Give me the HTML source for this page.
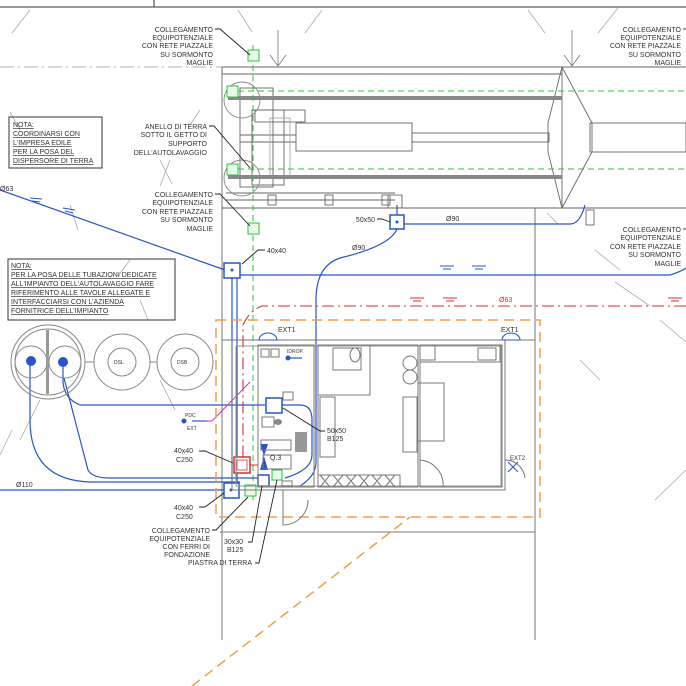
<!DOCTYPE html>
<html><head><meta charset="utf-8"><style>
html,body{margin:0;padding:0;background:#fff}
svg{display:block}
text{font-family:"Liberation Sans",sans-serif;font-size:7px;fill:#333}
.b{fill:#2a55c8}
.r{fill:#d03030}
</style></head><body>
<svg width="686" height="686" viewBox="0 0 686 686" xmlns="http://www.w3.org/2000/svg">
<rect width="686" height="686" fill="#fff"/>
<!-- top border -->
<line x1="0" y1="7" x2="686" y2="7" stroke="#333" stroke-width="1"/>
<line x1="154" y1="0" x2="154" y2="7" stroke="#333"/>
<!-- gray hatch diagonals -->
<g stroke="#aaa" stroke-width="0.8">
<line x1="12" y1="33" x2="30" y2="10"/><line x1="238" y1="10" x2="252" y2="32"/>
<line x1="305" y1="33" x2="322" y2="10"/><line x1="528" y1="10" x2="545" y2="33"/>
<line x1="598" y1="33" x2="618" y2="8"/>
<line x1="10" y1="112" x2="20" y2="130"/><line x1="200" y1="110" x2="190" y2="125"/>
<line x1="160" y1="160" x2="172" y2="184"/><line x1="170" y1="160" x2="160" y2="186"/>
<line x1="70" y1="205" x2="78" y2="230"/><line x1="130" y1="260" x2="118" y2="276"/>
<line x1="140" y1="300" x2="148" y2="320"/>
<line x1="595" y1="250" x2="620" y2="270"/><line x1="615" y1="282" x2="650" y2="306"/>
<line x1="660" y1="320" x2="686" y2="342"/><line x1="580" y1="360" x2="600" y2="380"/>
<line x1="40" y1="400" x2="20" y2="440"/><line x1="160" y1="380" x2="175" y2="410"/>
<line x1="0" y1="455" x2="12" y2="430"/><line x1="655" y1="500" x2="686" y2="470"/>
<line x1="547" y1="213" x2="558" y2="224"/>
</g>
<line x1="0" y1="67" x2="222" y2="67" stroke="#999" stroke-width="0.8" stroke-dasharray="14,4,2,4"/>
<!-- arrow pointers top -->
<g stroke="#777" fill="none" stroke-width="0.8">
<line x1="278" y1="30" x2="278" y2="66"/><polyline points="270,55 278,66 286,55"/>
<line x1="572" y1="30" x2="572" y2="66"/><polyline points="564,55 572,66 580,55"/>
</g>
<!-- carwash structure -->
<g stroke="#666" fill="none" stroke-width="0.9">
<line x1="222" y1="67" x2="686" y2="67"/>
<line x1="222" y1="74" x2="562" y2="74"/>
<line x1="222" y1="67" x2="222" y2="640"/>
<line x1="562" y1="67" x2="562" y2="208"/>
<line x1="222" y1="208" x2="686" y2="208"/>
<line x1="226" y1="193" x2="395" y2="193"/>
<line x1="226" y1="200" x2="395" y2="200"/>
<line x1="535" y1="208" x2="535" y2="640"/>
<rect x="296" y="123" width="116" height="28"/>
<rect x="412" y="133" width="137" height="9"/>
<rect x="590" y="123" width="96" height="29"/>
<polyline points="562,67 592,123 592,152 562,208"/>
<polyline points="562,67 548,123 548,152 562,208"/>
<rect x="240" y="88" width="33" height="99"/>
<rect x="252" y="110" width="32" height="75"/>
<rect x="255" y="110" width="50" height="12"/>
<line x1="240" y1="135" x2="296" y2="135"/><line x1="240" y1="142" x2="296" y2="142"/>
<circle cx="242" cy="100" r="18" stroke="#888"/>
<circle cx="242" cy="178" r="18" stroke="#888"/>
<rect x="270" y="118" width="20" height="60" stroke="#aaa"/>
<rect x="268" y="195" width="8" height="10"/><rect x="325" y="195" width="8" height="10"/><rect x="382" y="195" width="8" height="10"/>
<rect x="388" y="195" width="14" height="13"/>
<rect x="586" y="210" width="8" height="15"/>
</g>
<rect x="228" y="96" width="334" height="4" fill="#888"/>
<rect x="228" y="175" width="334" height="4" fill="#888"/>
<!-- green dashed -->
<g stroke="#2ec040" fill="none" stroke-width="1" stroke-dasharray="6,4">
<line x1="228" y1="91" x2="686" y2="91"/>
<line x1="228" y1="169" x2="686" y2="169"/>
<line x1="253" y1="45" x2="253" y2="500"/>
</g>
<g stroke="#2ec040" fill="#e8fbe8" stroke-width="1">
<rect x="248" y="50" width="11" height="11"/>
<rect x="227" y="86" width="11" height="11"/>
<rect x="227" y="164" width="11" height="11"/>
<rect x="248" y="223" width="11" height="11"/>
<rect x="245" y="485" width="11" height="11"/>
<rect x="272" y="470" width="10" height="10"/>
</g>
<!-- blue pipes -->
<g stroke="#2a55c8" fill="none" stroke-width="1.2">
<line x1="0" y1="190" x2="225" y2="270"/>
<line x1="239" y1="275" x2="670" y2="275"/>
<path d="M670,275 Q680,272 686,268"/>
<path d="M397,229 Q390,246 340,258 Q316,266 316,300 L316,462 Q316,476 300,486 L280,486"/>
<line x1="232" y1="277" x2="232" y2="484"/>
<line x1="237" y1="277" x2="237" y2="484"/>
<path d="M404,224 L570,224 Q580,224 585,205"/>
<line x1="397" y1="215" x2="397" y2="205"/>
<line x1="0" y1="490" x2="225" y2="490"/>
<path d="M30,362 L30,420 Q30,480 90,482 L240,482"/>
<path d="M63,362 L63,380 Q63,398 80,405 L265,405"/>
<path d="M64,378 L88,470 Q92,478 110,478 L258,478"/>
<path d="M282,405 L300,405 Q312,405 312,420 L312,455 Q312,470 285,478"/>
<line x1="192" y1="421" x2="208" y2="421"/>
<line x1="288" y1="358" x2="302" y2="358"/>
</g>
<g stroke="#2a55c8" fill="#fff" stroke-width="1.5">
<rect x="224" y="263" width="16" height="15"/>
<rect x="390" y="215" width="14" height="14"/>
<rect x="266" y="398" width="16" height="15"/>
<rect x="224" y="483" width="15" height="15"/>
<rect x="258" y="475" width="11" height="11"/>
</g>
<g class="b"><circle cx="232" cy="270" r="1.5"/><circle cx="397" cy="222" r="1.5"/><circle cx="231" cy="490" r="1.5"/>
<circle cx="31" cy="361" r="5"/><circle cx="63" cy="362" r="5"/><circle cx="184" cy="421" r="2.5"/><circle cx="288" cy="358" r="2.5"/>
<path d="M260,444 L268,444 L264,456 L268,470 L260,470 L264,456Z"/>
</g>
<g stroke="#2a55c8" stroke-width="1"><line x1="30" y1="198" x2="42" y2="199"/><line x1="32" y1="201" x2="40" y2="202"/>
<line x1="63" y1="208" x2="75" y2="210"/><line x1="65" y1="211" x2="73" y2="213"/>
<line x1="440" y1="266" x2="454" y2="266"/><line x1="443" y1="269" x2="451" y2="269"/>
<line x1="472" y1="266" x2="486" y2="266"/><line x1="475" y1="269" x2="483" y2="269"/></g>
<!-- red -->
<g stroke="#d03030" fill="none" stroke-width="1.1" stroke-dasharray="12,4,2,4">
<path d="M686,306 L262,306 Q250,310 243,325 L243,460"/>
</g>
<g stroke="#d03030" stroke-width="1"><line x1="410" y1="298" x2="424" y2="298"/><line x1="413" y1="301" x2="421" y2="301"/>
<line x1="443" y1="298" x2="457" y2="298"/><line x1="446" y1="301" x2="454" y2="301"/>
<line x1="668" y1="298" x2="682" y2="298"/><line x1="671" y1="301" x2="679" y2="301"/></g>
<rect x="234" y="457" width="16" height="16" fill="#fff" stroke="#d03030" stroke-width="1.5"/>
<rect x="237" y="460" width="10" height="10" fill="none" stroke="#d03030" stroke-width="0.8"/>
<line x1="250" y1="465" x2="258" y2="465" stroke="#d03030"/>
<!-- magenta -->
<path d="M206,421 L212,421 L250,382" stroke="#e030c0" fill="none" stroke-width="1"/>
<!-- orange dashed -->
<g stroke="#f0a040" fill="none" stroke-width="1.5" stroke-dasharray="10,6">
<rect x="216" y="320" width="324" height="197"/>
<line x1="192" y1="686" x2="410" y2="517"/>
</g>
<!-- building -->
<g stroke="#777" fill="none" stroke-width="1">
<line x1="222" y1="340" x2="535" y2="340"/>
<rect x="232" y="340" width="273" height="150"/>
<rect x="236" y="346" width="265" height="140" stroke="#999"/>
<rect x="258" y="345" width="56" height="142"/>
<rect x="318" y="345" width="100" height="142"/>
<rect x="420" y="345" width="82" height="142"/>
<rect x="318" y="345" width="52" height="50"/>
<rect x="420" y="345" width="80" height="17"/>
<rect x="420" y="345" width="15" height="15"/>
<rect x="478" y="348" width="18" height="12"/>
<rect x="418" y="383" width="26" height="58"/>
<rect x="403" y="397" width="14" height="55"/>
<rect x="320" y="397" width="15" height="60"/>
<rect x="318" y="475" width="82" height="12"/>
<path d="M320,475 l10,12 m0,-12 l-10,12 m13,-12 l10,12 m0,-12 l-10,12 m13,-12 l10,12 m0,-12 l-10,12 m13,-12 l10,12 m0,-12 l-10,12 m13,-12 l10,12 m0,-12 l-10,12 m13,-12 l10,12 m0,-12 l-10,12"/>
<path d="M420,460 A25,25 0 0 1 443,487"/><line x1="420" y1="460" x2="420" y2="487"/>
<path d="M505,460 A20,20 0 0 1 525,478"/>
<path d="M283,490 L283,525 A25,25 0 0 0 308,500"/>
<path d="M220,532 L535,532"/>
<ellipse cx="355" cy="355" rx="5" ry="7"/>
<circle cx="410" cy="363" r="7"/><circle cx="410" cy="377" r="7"/>
<rect x="261" y="349" width="8" height="8"/><rect x="271" y="349" width="8" height="8"/>
<rect x="283" y="392" width="10" height="8"/><rect x="262" y="417" width="12" height="10"/>
<rect x="261" y="440" width="30" height="10"/><rect x="263" y="455" width="28" height="14"/>
<rect x="282" y="481" width="10" height="5"/>
<rect x="333" y="348" width="28" height="22"/>
</g>
<rect x="295" y="432" width="12" height="20" fill="#999"/>
<ellipse cx="278" cy="422" rx="4" ry="3" fill="#888"/>
<path d="M259,340 A9,7 0 0 1 277,340 Z M502,340 A9,7 0 0 1 520,340 Z" fill="none" stroke="#2a55c8"/>
<path d="M508,462 l10,10 m0,-10 l-10,10" stroke="#2a55c8"/>
<!-- tanks -->
<g stroke="#888" fill="none" stroke-width="1">
<circle cx="48" cy="362" r="37"/><circle cx="48" cy="362" r="33"/>
<circle cx="31" cy="362" r="16"/><circle cx="65" cy="362" r="16"/>
<circle cx="122" cy="362" r="28"/><circle cx="122" cy="362" r="14"/>
<circle cx="185" cy="362" r="28"/><circle cx="185" cy="362" r="14"/>
<line x1="85" y1="362" x2="94" y2="362"/><line x1="150" y1="362" x2="157" y2="362"/>
</g>
<rect x="46" y="330" width="3" height="64" fill="#999"/>
<text x="114" y="364" style="font-size:5px">DSL</text><text x="177" y="364" style="font-size:5px">DSB</text>
<!-- notes -->
<rect x="9" y="117" width="93" height="51" fill="none" stroke="#333"/>
<text x="13" y="127" text-decoration="underline">NOTA:</text>
<text x="13" y="136" text-decoration="underline">COORDINARSI CON</text>
<text x="13" y="145" text-decoration="underline">L'IMPRESA EDILE</text>
<text x="13" y="154" text-decoration="underline">PER LA POSA DEL</text>
<text x="13" y="163" text-decoration="underline">DISPERSORE DI TERRA</text>
<rect x="8" y="259" width="167" height="61" fill="none" stroke="#333"/>
<text x="11" y="268" text-decoration="underline">NOTA:</text>
<text x="11" y="277" text-decoration="underline">PER LA POSA DELLE TUBAZIONI DEDICATE</text>
<text x="11" y="286" text-decoration="underline">ALL'IMPIANTO DELL'AUTOLAVAGGIO FARE</text>
<text x="11" y="295" text-decoration="underline">RIFERIMENTO ALLE TAVOLE ALLEGATE E</text>
<text x="11" y="304" text-decoration="underline">INTERFACCIARSI CON L'AZIENDA</text>
<text x="11" y="313" text-decoration="underline">FORNITRICE DELL'IMPIANTO</text>
<!-- labels -->
<g text-anchor="end">
<text x="213" y="32">COLLEGAMENTO</text><text x="213" y="40">EQUIPOTENZIALE</text><text x="213" y="48">CON RETE PIAZZALE</text><text x="213" y="57">SU SORMONTO</text><text x="213" y="65">MAGLIE</text>
<text x="207" y="129">ANELLO DI TERRA</text><text x="207" y="137">SOTTO IL GETTO DI</text><text x="207" y="146">SUPPORTO</text><text x="207" y="155">DELL'AUTOLAVAGGIO</text>
<text x="213" y="197">COLLEGAMENTO</text><text x="213" y="205">EQUIPOTENZIALE</text><text x="213" y="214">CON RETE PIAZZALE</text><text x="213" y="222">SU SORMONTO</text><text x="213" y="231">MAGLIE</text>
<text x="681" y="32">COLLEGAMENTO</text><text x="681" y="40">EQUIPOTENZIALE</text><text x="681" y="48">CON RETE PIAZZALE</text><text x="681" y="57">SU SORMONTO</text><text x="681" y="65">MAGLIE</text>
<text x="681" y="232">COLLEGAMENTO</text><text x="681" y="240">EQUIPOTENZIALE</text><text x="681" y="249">CON RETE PIAZZALE</text><text x="681" y="257">SU SORMONTO</text><text x="681" y="266">MAGLIE</text>
<text x="210" y="533">COLLEGAMENTO</text><text x="210" y="541">EQUIPOTENZIALE</text><text x="210" y="549">CON FERRI DI</text><text x="210" y="557">FONDAZIONE</text>
<text x="252" y="565">PIASTRA DI TERRA</text>
<text x="375" y="222">50x50</text>
</g>
<text x="267" y="253">40x40</text>
<text x="174" y="453">40x40</text><text x="176" y="462">C250</text>
<text x="174" y="510">40x40</text><text x="176" y="519">C250</text>
<text x="224" y="544">30x30</text><text x="227" y="552">B125</text>
<text x="327" y="433">50x50</text><text x="327" y="441">B125</text>
<text x="270" y="460">Q.3</text>
<g class="b"><text x="0" y="191">Ø63</text><text x="446" y="221">Ø90</text><text x="352" y="250">Ø90</text>
<text x="16" y="487">Ø110</text><text x="278" y="332">EXT1</text><text x="501" y="332">EXT1</text>
<text x="510" y="460" style="font-size:6px">EXT2</text><text x="287" y="353" style="font-size:5px">IDROP.</text>
<text x="185" y="417" style="font-size:5px">PDC</text><text x="187" y="430" style="font-size:5px">EXT</text></g>
<text x="499" y="302" class="r">Ø63</text>
<!-- leader lines -->
<g stroke="#222" fill="none" stroke-width="0.9">
<polyline points="215,29 220,29 250,55"/>
<polyline points="209,126 214,126 250,168"/>
<polyline points="215,194 220,194 250,226"/>
<polyline points="265,250 258,250 242,264"/>
<polyline points="377,219 382,219 390,222"/>
<polyline points="325,431 320,431 283,408"/>
<polyline points="199,451 205,451 233,463"/>
<polyline points="199,507 205,507 224,493"/>
<polyline points="212,530 216,530 248,497"/>
<polyline points="248,542 252,542 262,486"/>
<polyline points="255,563 259,563 277,480"/>
<polyline points="686,229 683,229"/><polyline points="686,29 683,29"/>
</g>
</svg>
</body></html>
